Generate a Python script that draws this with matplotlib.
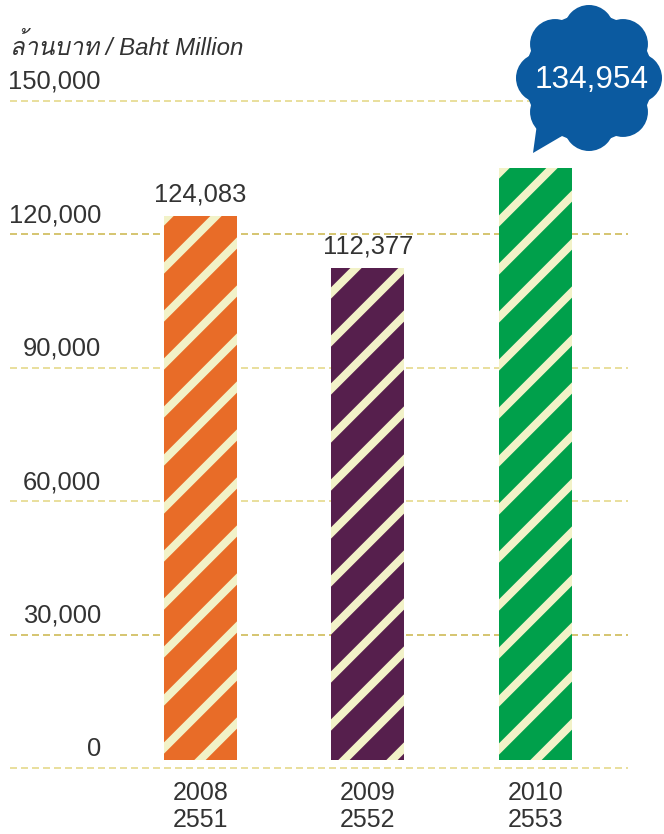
import numpy as np
import matplotlib
matplotlib.use("Agg")
import matplotlib.pyplot as plt
import matplotlib.transforms as mtransforms
from matplotlib import font_manager
from matplotlib.patches import Circle, Polygon

# data
years = ["2008\n2551", "2009\n2552", "2010\n2553"]
values = np.array([124083, 112377, 134954])
bar_colors = ["#e86c28", "#561f4d", "#00a04b"]
y_ticks = [0, 30000, 60000, 90000, 120000, 150000]
y_tick_labels = ["0", "30,000", "60,000", "90,000", "120,000", "150,000"]
grid_colors = ["#e2d57e", "#c9b445", "#e2d57e", "#e2d57e", "#c9b445", "#e2d57e"]
unit_label = "ล้านบาท / Baht Million"

DPI = 288  # hatch tile is one inch, so a high dpi gives wide stripes
W, H = 664, 834


def pt(px):
    # pixel size -> points at this dpi
    return px * 72.0 / DPI


def find_thai_font():
    try:
        from fontTools.ttLib import TTFont
    except Exception:
        return None
    for f in font_manager.fontManager.ttflist:
        try:
            tt = TTFont(f.fname, fontNumber=0, lazy=True)
            cmap = tt.getBestCmap()
            if cmap and ord("ล") in cmap:
                return f.name
        except Exception:
            pass
    return None


thai = find_thai_font()
families = ["Liberation Sans", "DejaVu Sans"]
if thai:
    families = ["Liberation Sans", thai, "DejaVu Sans"]
plt.rcParams["font.family"] = families
plt.rcParams["hatch.linewidth"] = pt(8)

text_color = "#333333"
cream = "#f2f2c8"

fig = plt.figure(figsize=(W / DPI, H / DPI), dpi=DPI)
# axes spans the gridlines: x 10..628 px, y 0 at 768 px, 150000 at 101 px
ax = fig.add_axes([10 / W, (H - 768) / H, 618 / W, 667 / H])
ax.set_ylim(0, 150000)
spacing = 167.5
x = np.arange(len(values))
ax.set_xlim(-(200.5 - 10) / spacing, 2 + (628 - 535.5) / spacing)

# bars stop a few pixels above the zero line
gap = 1900
ax.bar(x, values - gap, bottom=gap, width=73 / spacing, color=bar_colors,
       edgecolor=cream, linewidth=0, hatch="//", zorder=2)

lw = 1.5
for v, c in zip(y_ticks, grid_colors):
    ax.axhline(v, color=c, linewidth=pt(lw), dashes=(7 / lw, 4 / lw),
               zorder=1, clip_on=False)

blend = mtransforms.blended_transform_factory(ax.transAxes, ax.transData)
for v, lab in zip(y_ticks, y_tick_labels):
    ax.annotate(lab, xy=((101 - 10) / 618, v), xycoords=blend,
                xytext=(0, pt(12)), textcoords="offset points",
                ha="right", va="baseline", fontsize=pt(25.5), color=text_color,
                annotation_clip=False)

# value labels (the 2010 value goes into the bubble)
for i in range(2):
    ax.annotate(f"{values[i]:,}", xy=(x[i], values[i]), xytext=(0, pt(15)),
                textcoords="offset points", ha="center", va="baseline",
                fontsize=pt(25.5), color=text_color, annotation_clip=False)

ax.set_xticks(x)
ax.set_xticklabels(years, fontsize=pt(25), color=text_color, linespacing=1.15)
ax.tick_params(axis="x", length=0, pad=pt(13))
ax.set_yticks([])
for s in ax.spines.values():
    s.set_visible(False)

# decoration layer in pixel coordinates
deco = fig.add_axes([0, 0, 1, 1], zorder=5)
deco.set_xlim(0, W)
deco.set_ylim(H, 0)
deco.axis("off")
deco.patch.set_alpha(0)

deco.text(10, 55, unit_label, fontsize=pt(24), style="italic",
          color=text_color, ha="left", va="baseline")

blue = "#0b5aa0"
cx, cy = 589, 78
deco.add_patch(Circle((cx, cy), 64, color=blue, lw=0))
for k in range(8):
    a = np.pi / 2 + k * np.pi / 4
    deco.add_patch(Circle((cx + 48 * np.cos(a), cy - 48 * np.sin(a)), 25,
                          color=blue, lw=0))
deco.add_patch(Polygon([(533, 153), (537, 124), (562, 136)], closed=True,
                       color=blue, lw=0))
deco.text(592, 80, f"{values[2]:,}", fontsize=pt(31.5), color="white",
          ha="center", va="center")

fig.savefig("out.png", dpi=DPI)
